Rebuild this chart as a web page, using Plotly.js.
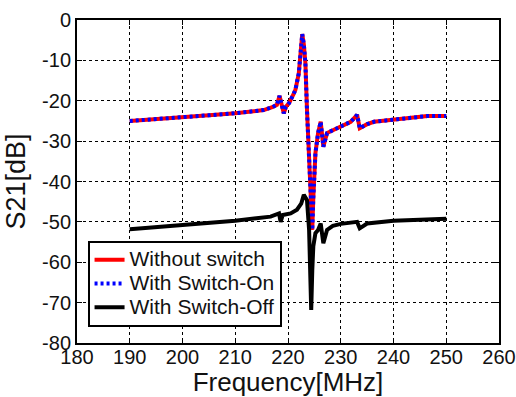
<!DOCTYPE html>
<html>
<head>
<meta charset="utf-8">
<script src="https://cdn.plot.ly/plotly-3.0.1.min.js"></script>
<style>
  html, body { margin: 0; padding: 0; background: #ffffff; }
  #chart { width: 516px; height: 397px; }
</style>
</head>
<body>
<div id="chart"></div>
<script>
// Frequency points (MHz) for the "Without switch" / "With Switch-On" traces
const freqOnOff = [190, 195, 200, 205, 210, 213, 215.4, 217, 217.9, 218.4, 219.2, 219.6, 220.2, 221.0, 221.4, 222.05, 222.5, 222.7, 223.0, 223.3, 223.6, 224.1, 224.4, 224.6, 224.8, 225.2, 225.7, 226.2, 226.7, 227.4, 228.5, 230, 231.9, 233.1, 233.6, 235, 236.3, 240.7, 246.4, 250];
// S21 (dB) without switch
const withoutSwitch = [-25.0, -24.6, -24.1, -23.6, -23.1, -22.7, -22.3, -21.6, -21.0, -18.8, -23.1, -21.5, -20.6, -18.5, -17.3, -13.2, -7.0, -3.5, -6.0, -10.7, -22.3, -35.5, -45.0, -52.0, -44.0, -33.0, -28.0, -25.2, -31.4, -28.0, -27.3, -26.3, -25.2, -23.5, -26.8, -25.8, -25.2, -24.6, -23.8, -23.8];
// S21 (dB) with switch on
const switchOn = [-25.0, -24.6, -24.1, -23.6, -23.1, -22.7, -22.3, -21.6, -21.0, -18.8, -23.1, -21.5, -20.6, -18.5, -17.3, -13.2, -7.0, -3.5, -6.0, -10.7, -22.3, -35.5, -45.0, -52.0, -44.0, -33.0, -28.0, -25.2, -31.4, -28.0, -27.3, -26.3, -25.2, -23.5, -26.8, -25.8, -25.2, -24.6, -23.8, -23.8];

// Frequency points (MHz) for the "With Switch-Off" trace
const freqOff = [190, 195, 200, 205, 210, 214, 216.7, 218.3, 218.6, 219.0, 220.5, 221.7, 222.5, 223.0, 223.6, 224.0, 224.2, 224.4, 224.6, 224.8, 225.2, 225.7, 226.2, 226.7, 227.4, 228.5, 230, 233.1, 233.6, 235, 240, 245, 250];
// S21 (dB) with switch off
const switchOff = [-51.8, -51.3, -50.8, -50.2, -49.7, -49.1, -48.7, -47.9, -50.0, -48.3, -47.9, -47.0, -45.5, -43.3, -44.6, -52.0, -62.0, -71.8, -62.0, -56.0, -52.8, -52.0, -50.4, -55.3, -52.0, -51.0, -50.5, -50.0, -51.6, -50.4, -49.7, -49.4, -49.2];

const seriesNames = ['Without switch', 'With Switch-On', 'With Switch-Off'];

const xTickVals = [180, 190, 200, 210, 220, 230, 240, 250, 260];
const xTickText = ['180', '190', '200', '210', '220', '230', '240', '250', '260'];
const yTickVals = [0, -10, -20, -30, -40, -50, -60, -70, -80];
const yTickText = ['0', '-10', '-20', '-30', '-40', '-50', '-60', '-70', '-80'];

const FONT = 'Liberation Sans, Arial, sans-serif';
const legendLabel = s => '<span style="font-size:21px">' + s + '</span>';

const traces = [
  { x: freqOnOff, y: withoutSwitch, name: legendLabel(seriesNames[0]), mode: 'lines',
    line: { color: '#ff0000', width: 4 } },
  { x: freqOnOff, y: switchOn, name: legendLabel(seriesNames[1]), mode: 'lines',
    line: { color: '#0000ff', width: 4, dash: '3px,3px' } },
  { x: freqOff, y: switchOff, name: legendLabel(seriesNames[2]), mode: 'lines',
    line: { color: '#000000', width: 4 } }
];

const axisCommon = {
  showline: true, linecolor: '#000', linewidth: 2, mirror: 'ticks',
  ticks: 'inside', ticklen: 5, tickwidth: 1, tickcolor: '#000',
  showgrid: true, gridcolor: '#000', gridwidth: 1, griddash: '3px,3px',
  zeroline: false, tickmode: 'array', automargin: false,
  tickfont: { family: FONT, size: 20, color: '#111' }
};

const layout = {
  width: 516, height: 397,
  paper_bgcolor: '#ffffff', plot_bgcolor: '#ffffff',
  margin: { l: 77, r: 17, t: 20, b: 54 },
  showlegend: true,
  legend: {
    x: 0.025, y: 0.05, xanchor: 'left', yanchor: 'bottom',
    bgcolor: '#ffffff', bordercolor: '#000', borderwidth: 2,
    font: { family: FONT, size: 16, color: '#111' },
    tracegroupgap: 0
  },
  xaxis: Object.assign({}, axisCommon, {
    range: [180, 260], tickvals: xTickVals, ticktext: xTickText, ticklabelstandoff: -5,
    title: { text: 'Frequency[MHz]', font: { family: FONT, size: 26, color: '#111' }, standoff: 6 }
  }),
  yaxis: Object.assign({}, axisCommon, {
    range: [-80, 0], tickvals: yTickVals, ticktext: yTickText,
    title: { text: 'S21[dB]', font: { family: FONT, size: 27, color: '#111' }, standoff: 9 }
  })
};

Plotly.newPlot('chart', traces, layout, { displayModeBar: false, staticPlot: true });
</script>
</body>
</html>
